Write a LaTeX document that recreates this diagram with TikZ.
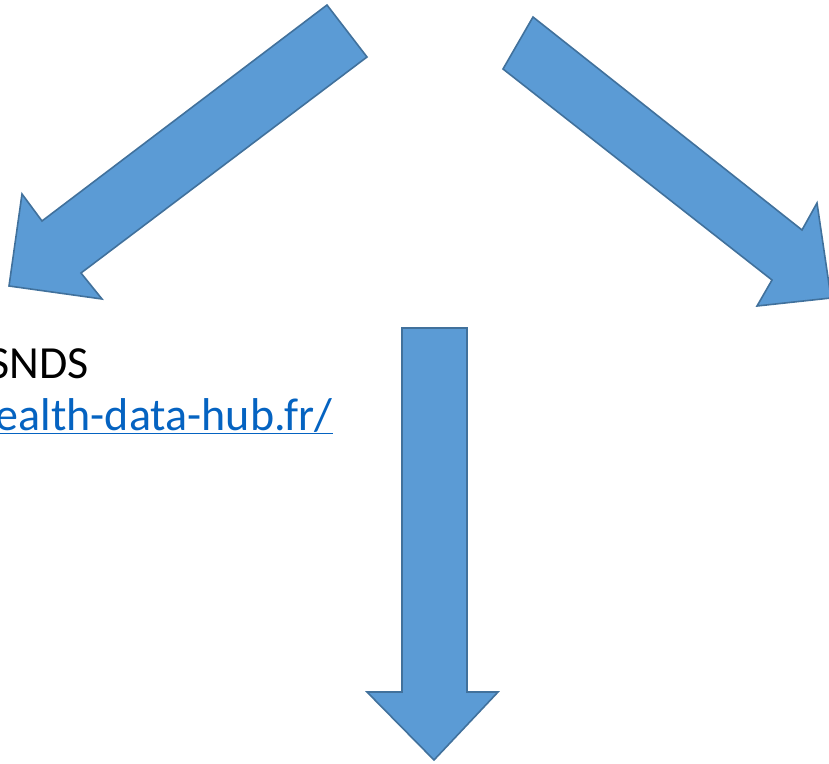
\documentclass[tikz,border=0pt]{standalone}
\usepackage{fontspec}
\setmainfont{Carlito}
\definecolor{arrowfill}{HTML}{5B9BD5}
\definecolor{arrowline}{HTML}{41719C}
\definecolor{linkblue}{HTML}{0563C1}
\begin{document}
\begin{tikzpicture}[x=1pt,y=-1pt,
  blockarrow/.style={fill=arrowfill,draw=arrowline,line width=1.6pt,line join=miter},
  txt/.style={inner sep=0pt,font=\fontsize{46}{54}\selectfont}]
\useasboundingbox (0,0) rectangle (829,763);
\clip (0,0) rectangle (829,763);
% left arrow
\draw[blockarrow] (327,5) -- (367,57) -- (81,273) -- (102,299) -- (9,286) -- (22,194) -- (42,221) -- cycle;
% right arrow
\draw[blockarrow] (533,17) -- (802,230) -- (817,203) -- (831,298) -- (757,306) -- (772,280) -- (503,69) -- cycle;
% down arrow
\draw[blockarrow] (402,328) -- (467,328) -- (467,692) -- (498,692) -- (434,760) -- (367,692) -- (402,692) -- cycle;
% texts
\node[txt,anchor=base east] (snds) at (89,378) {SNDS};
\node[txt,anchor=base east,text=linkblue] (url) at (333,430) {\underline{ealth-data-hub.fr/}};
\end{tikzpicture}
\end{document}
